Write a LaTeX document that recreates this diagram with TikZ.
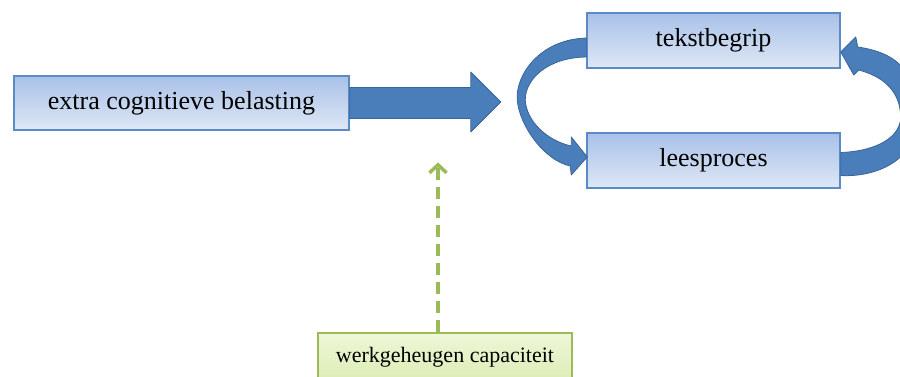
\documentclass[tikz,border=0pt]{standalone}
\usepackage{fontspec}
\setmainfont{Liberation Serif}
\usetikzlibrary{calc,arrows.meta}
\definecolor{boxtop}{HTML}{A9C1E8}
\definecolor{boxbot}{HTML}{DEE7F5}
\definecolor{boxline}{HTML}{5B8BC6}
\definecolor{arrblue}{HTML}{4A7EBB}
\definecolor{arrdark}{HTML}{3A6598}
\definecolor{gtop}{HTML}{EEF7D8}
\definecolor{gbot}{HTML}{DDEDB5}
\definecolor{gline}{HTML}{9BBB59}
\tikzset{
  bluebox/.style={draw=boxline, line width=1.5pt, top color=boxtop, bottom color=boxbot, inner sep=0pt, font=\fontsize{26}{30}\selectfont},
  greenbox/.style={draw=gline, line width=1.2pt, top color=gtop, bottom color=gbot, inner sep=0pt, font=\fontsize{22}{26}\selectfont},
  blockarrow/.style={fill=arrblue, draw=arrdark, line width=0.8pt, line join=round},
  dasharrow/.style={draw=gline, line width=4pt, dash pattern=on 12pt off 7pt, -{Straight Barb[length=8pt,width=17pt,line width=3.5pt]}}
}
\begin{document}
\begin{tikzpicture}[x=1pt,y=-1pt]
\useasboundingbox (0,0) rectangle (900,376);
\begin{scope}
\clip (0,0) rectangle (900,376);
% nodes
\node[bluebox, minimum width=335pt, minimum height=54pt] (load) at (181.5,103) {extra cognitieve belasting};
\node[bluebox, minimum width=253pt, minimum height=55pt] (tekst) at (713.5,40.5) {tekstbegrip};
\node[bluebox, minimum width=253pt, minimum height=55pt] (lees) at (713.5,160.5) {leesproces};
\node[greenbox, minimum width=254pt, minimum height=48pt] (werk) at (445,357) {werkgeheugen capaciteit};
% block arrow from load
\path (load.east) coordinate (la);
\fill[blockarrow] ($(la)+(0,-15.5)$) -- ($(la)+(121,-15.5)$) -- ($(la)+(121,-31)$) -- ($(la)+(151,-1)$)
  -- ($(la)+(121,29)$) -- ($(la)+(121,15.5)$) -- ($(la)+(0,15.5)$) -- cycle;
% left curved arrow: tekst -> lees
\path (tekst.west) coordinate (tw) (lees.west) coordinate (lw);
\fill[blockarrow] ($(tw)+(0,-2.5)$) .. controls ($(tw)+(-47,-1)$) and ($(tw)+(-71,35)$) .. ($(tw)+(-69,59.5)$)
  .. controls ($(tw)+(-67,85)$) and ($(lw)+(-42,0)$) .. ($(lw)+(-16,5.5)$)
  -- ($(lw)+(-15,14.5)$) -- ($(lw)+(1,-3.5)$) -- ($(lw)+(-15,-23.5)$) -- ($(lw)+(-15,-14.5)$)
  .. controls ($(lw)+(-40,-20)$) and ($(tw)+(-60,80)$) .. ($(tw)+(-61,59.5)$)
  .. controls ($(tw)+(-61,38)$) and ($(tw)+(-38,17)$) .. ($(tw)+(0,16.5)$) -- cycle;
% right curved arrow: lees -> tekst
\path (tekst.east) coordinate (te) (lees.east) coordinate (le);
\fill[blockarrow] ($(le)+(0,15)$) .. controls ($(le)+(35,17)$) and ($(le)+(75,0)$) .. ($(le)+(76,-40)$)
  .. controls ($(te)+(78,30)$) and ($(te)+(55,12)$) .. ($(te)+(17,6.5)$)
  -- ($(te)+(15,-3.5)$) -- ($(te)+(0,11.5)$) -- ($(te)+(13,34.5)$) -- ($(te)+(18,29.5)$)
  .. controls ($(te)+(42,36)$) and ($(te)+(60,50)$) .. ($(le)+(60,-42)$)
  .. controls ($(le)+(58,-20)$) and ($(le)+(30,-9)$) .. ($(le)+(0,-8)$) -- cycle;
% green dashed arrow
\coordinate (dtip) at ($(werk.north)+(-7,-170)$);
\draw[dasharrow] ($(werk.north)+(-7,0)$) -- (dtip);
\end{scope}
\end{tikzpicture}
\end{document}
